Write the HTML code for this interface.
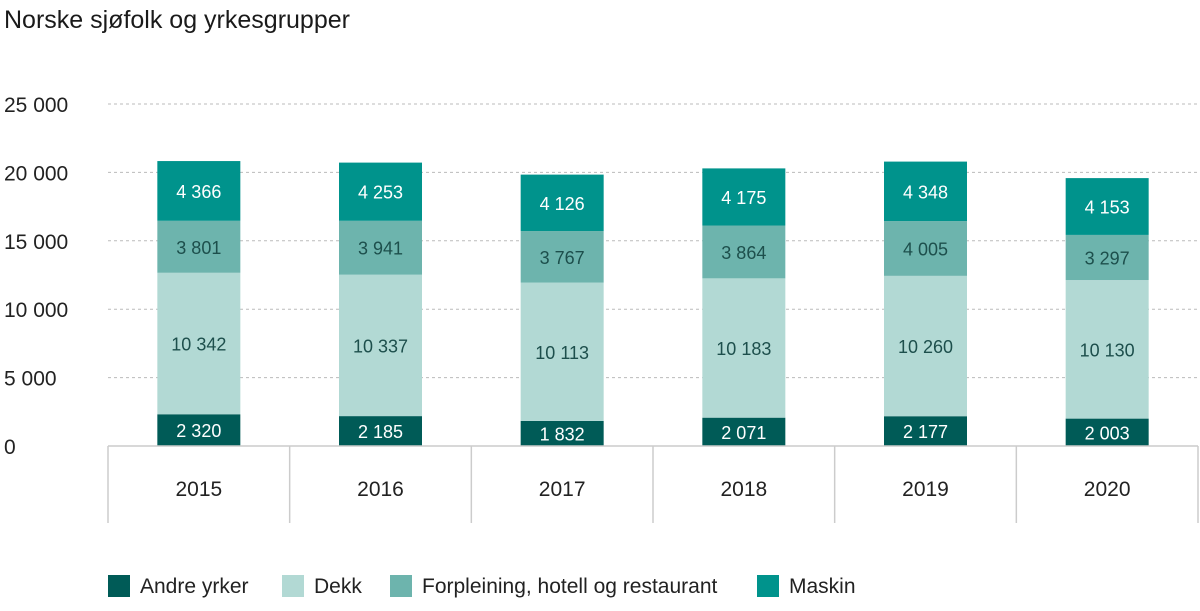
<!DOCTYPE html>
<html><head><meta charset="utf-8"><style>
body{margin:0;background:#fff;font-family:"Liberation Sans",sans-serif}
svg text{font-family:"Liberation Sans",sans-serif}
</style></head><body>
<svg width="1200" height="606">
<text x="4" y="28" font-size="25" fill="#1a1a1a">Norske sjøfolk og yrkesgrupper</text>
<g id="grid"></g><g id="bars"></g><g id="axis"></g><g id="legend"></g>
</svg>
<script>
const years=["2015","2016","2017","2018","2019","2020"];
const andre=[2320,2185,1832,2071,2177,2003];
const dekk=[10342,10337,10113,10183,10260,10130];
const forp=[3801,3941,3767,3864,4005,3297];
const maskin=[4366,4253,4126,4175,4348,4153];
const ticks=[0,5000,10000,15000,20000,25000];
const seriesNames=["Andre yrker","Dekk","Forpleining, hotell og restaurant","Maskin"];
const colors=["#005b57","#b2d9d4","#6db4ad","#00938c"];
const textCol=["#fff","#1d4f4c","#1d4f4c","#fff"];
const NS="http://www.w3.org/2000/svg";
const x0=108,x1=1198,y0=446,yTop=104;
const y=v=>y0-(v/25000)*(y0-yTop);
const cw=(x1-x0)/years.length;
const fmt=v=>String(v).replace(/\B(?=(\d{3})+(?!\d))/g," ");
function mk(t,a,p){const e=document.createElementNS(NS,t);for(const k in a)e.setAttribute(k,a[k]);p.appendChild(e);return e;}
const G=document.getElementById("grid");
ticks.forEach(t=>{
 if(t>0){const l=mk("line",{x1:x0,x2:x1,y1:y(t),y2:y(t),stroke:"#bbb","stroke-dasharray":"3,3"},G);
 
 }
 const tx=mk("text",{x:4,y:y(t)+8,"font-size":21,fill:"#222"},G);tx.textContent=fmt(t);
 
 
});
const B=document.getElementById("bars");
const series=[andre,dekk,forp,maskin];
years.forEach((yr,i)=>{
 let base=0;const bx=x0+i*cw+cw/2-41.5;
 series.forEach((s,k)=>{
  const v=s[i];
  const r=mk("rect",{x:bx,y:y(base+v),width:83,height:y(base)-y(base+v),fill:colors[k]},B);
  
  
  const t=mk("text",{x:bx+41.5,y:(y(base)+y(base+v))/2+7,"text-anchor":"middle","font-size":18,fill:textCol[k]},B);
  t.textContent=fmt(v);
  
  
  base+=v;
 });
});
const A=document.getElementById("axis");
mk("line",{x1:x0,x2:x1,y1:y0,y2:y0,stroke:"#ccc","stroke-width":1.5},A);
for(let i=0;i<=years.length;i++){const xx=x0+i*cw;mk("line",{x1:xx,x2:xx,y1:y0,y2:523,stroke:"#ccc","stroke-width":1.5},A);}
years.forEach((yr,i)=>{const t=mk("text",{x:x0+i*cw+cw/2,y:496,"text-anchor":"middle","font-size":21,fill:"#222"},A);t.textContent=yr;
 
 });
const L=document.getElementById("legend");
const lx=[108,282,390,757];
seriesNames.forEach((n,k)=>{
 const g=mk("g",{},L);
 
 
 mk("rect",{x:lx[k],y:575,width:22,height:22,fill:colors[k]},g);
 const t=mk("text",{x:lx[k]+32,y:593,"font-size":21,fill:"#222"},g);t.textContent=n;
});
</script>
</body></html>
